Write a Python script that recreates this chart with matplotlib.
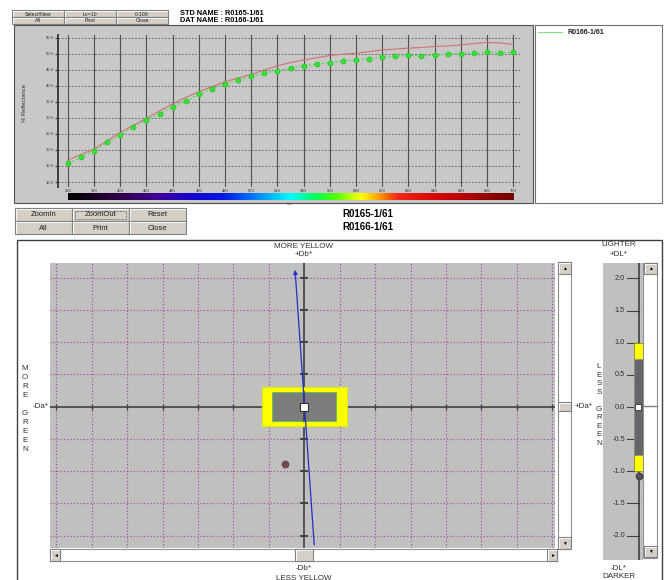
import numpy as np
import matplotlib
matplotlib.use("Agg")
import matplotlib.pyplot as plt
from matplotlib.colors import LinearSegmentedColormap
from matplotlib.patches import Rectangle

plt.rcParams["font.family"] = ["Liberation Sans", "DejaVu Sans"]

W, H = 667, 580

# spectral reflectance curves (nm, %R)
wavelengths = [360, 370, 380, 390, 400, 410, 420, 430, 440, 450, 460, 470,
               480, 490, 500, 510, 520, 530, 540, 550, 560, 570, 580, 590,
               600, 610, 620, 630, 640, 650, 660, 670, 680, 690, 700]
std_reflectance = [16.9, 18.6, 20.3, 22.9, 25.5, 27.7, 29.9, 32.2, 34.4, 36.4,
                   38.2, 39.8, 41.3, 42.5, 43.6, 45.0, 46.3, 47.3, 48.1, 48.8,
                   49.5, 49.9, 50.2, 50.7, 51.25, 51.5, 51.8, 52.0, 52.3, 52.5,
                   52.8, 53.2, 53.6, 53.4, 53.0]
bat_reflectance = [15.8, 17.7, 19.8, 22.4, 24.7, 27.1, 29.4, 31.3, 33.5, 35.3,
                   37.4, 39.1, 40.7, 41.8, 43.0, 44.0, 44.8, 45.5, 46.3, 46.8,
                   47.3, 47.8, 48.1, 48.5, 49.0, 49.2, 49.5, 49.4, 49.7, 49.9,
                   50.1, 50.3, 50.5, 50.3, 50.5]
x_ticks = list(range(360, 701, 20))
y_ticks = [10.0, 15.0, 20.0, 25.0, 30.0, 35.0, 40.0, 45.0, 50.0, 55.0]

std_name = "R0165-1/61"
bat_name = "R0166-1/61"

# colour difference (batch vs standard)
da_ticks = [-3.5, -3.0, -2.5, -2.0, -1.5, -1.0, -0.5, 0.0, 0.5, 1.0, 1.5, 2.0, 2.5, 3.0, 3.5]
db_ticks = [-2.0, -1.5, -1.0, -0.5, 0.0, 0.5, 1.0, 1.5, 2.0]
dl_ticks = [-2.0, -1.5, -1.0, -0.5, 0.0, 0.5, 1.0, 1.5, 2.0]
tol_a, tol_b, tol_l = 0.6, 0.3, 1.0
inner_frac = 0.75
batch_da, batch_db, batch_dl = -0.27, -0.89, -1.07
hue_line_start = (0.14, -2.14)
hue_line_end = (-0.13, 2.12)


def box(x0, y0, x1, y1):
    return [x0 / W, 1 - y1 / H, (x1 - x0) / W, (y1 - y0) / H]


fig = plt.figure(figsize=(W / 100, H / 100), dpi=100)
fig.patch.set_facecolor("white")

ui = fig.add_axes([0, 0, 1, 1])
ui.set_xlim(0, W)
ui.set_ylim(H, 0)
ui.axis("off")


def button(x0, y0, x1, y1, label, size=5.0, focus=False):
    ui.add_patch(Rectangle((x0, y0), x1 - x0, y1 - y0, facecolor="#d4d0c8",
                           edgecolor="#808080", lw=0.8))
    ui.plot([x0 + 0.5, x1 - 1], [y0 + 0.8, y0 + 0.8], color="white", lw=0.6)
    ui.plot([x0 + 0.8, x0 + 0.8], [y0 + 0.5, y1 - 1], color="white", lw=0.6)
    if focus:
        ui.add_patch(Rectangle((x0 + 3, y0 + 2.5), x1 - x0 - 6, y1 - y0 - 5, fill=False,
                               edgecolor="#303030", lw=0.5, ls=(0, (1, 1))))
    ui.text((x0 + x1) / 2, (y0 + y1) / 2 + 0.5, label, ha="center", va="center",
            fontsize=size, color="#202020")


# --- header ---
for i, lab in enumerate(["Select/New", "Lv=10", "0-100"]):
    button(12 + i * 52, 10, 64 + i * 52, 17, lab, size=3.8)
for i, lab in enumerate(["All", "Print", "Close"]):
    button(12 + i * 52, 17, 64 + i * 52, 24, lab, size=3.8)
ui.text(180, 13.5, "STD NAME : " + std_name, fontsize=5.3, fontweight="bold", va="center")
ui.text(180, 20.5, "DAT NAME : " + bat_name, fontsize=5.3, fontweight="bold", va="center")

# --- top spectral panel ---
ui.add_patch(Rectangle((14, 25), 519, 178, facecolor="#c8c8c8", edgecolor="#505050", lw=0.8))
ui.add_patch(Rectangle((535, 25), 127, 178, facecolor="white", edgecolor="#707070", lw=0.8))
ui.plot([538, 562], [32, 32], color="#80e080", lw=0.8)
ui.text(568, 32, bat_name, fontsize=5.0, fontweight="bold", va="center", color="#202020")

ax = fig.add_axes(box(58, 35, 520, 187))
ax.set_facecolor("#c8c8c8")
ax.set_xlim(352.4, 705.3)
ax.set_ylim(8.44, 55.9)
for x in x_ticks:
    ax.axvline(x, color="#505050", lw=0.8, zorder=1)
for y in y_ticks:
    ax.axhline(y, color="#555555", lw=0.6, ls=(0, (2, 2)), zorder=1)
ax.plot(wavelengths, std_reflectance, color="#d07070", lw=0.8, zorder=3)
ax.plot(wavelengths, bat_reflectance, color="#40e040", lw=0.8, ls=(0, (2, 2)),
        marker="o", ms=3.2, mec="#30d030", zorder=4)
ax.set_xticks(x_ticks)
ax.set_yticks(y_ticks)
ax.set_xticklabels([str(v) for v in x_ticks])
ax.set_yticklabels([f"{v:.1f}" for v in y_ticks])
ax.tick_params(axis="x", length=0, pad=1.2, labelsize=3.0, colors="#303030")
ax.tick_params(axis="y", length=2, pad=1, labelsize=3.0, colors="#303030")
for s in ["top", "right", "bottom"]:
    ax.spines[s].set_visible(False)
ax.spines["left"].set_linewidth(1.4)
ax.spines["left"].set_color("#404040")
ui.text(25, 103, "% Reflectance", rotation=90, fontsize=4.2, ha="center", va="center",
        color="#303030")

# spectrum strip under the curve
spec = LinearSegmentedColormap.from_list("spec", [
    (0.0, (0, 0, 0)), (0.12, (0.2, 0.0, 0.3)), (0.2, (0.25, 0.0, 0.6)),
    (0.27, (0.1, 0.0, 0.8)), (0.35, (0.0, 0.1, 0.9)), (0.42, (0.0, 0.5, 1.0)),
    (0.5, (0.0, 1.0, 1.0)), (0.55, (0.0, 1.0, 0.4)), (0.6, (0.3, 1.0, 0.0)),
    (0.64, (0.8, 1.0, 0.0)), (0.66, (1.0, 1.0, 0.0)), (0.7, (1.0, 0.6, 0.0)),
    (0.74, (0.95, 0.15, 0.1)), (0.85, (0.8, 0.0, 0.0)), (1.0, (0.45, 0.0, 0.0))])
cb = fig.add_axes(box(58, 193, 520, 200))
cb.imshow(np.linspace(0, 1, 400)[None, :], aspect="auto", cmap=spec,
          extent=(wavelengths[0], wavelengths[-1], 0, 1))
cb.set_xlim(352.4, 705.3)
cb.axis("off")
ui.text(290, 204, "nm", fontsize=3, ha="center", va="center", color="#303030")

# --- middle buttons and names ---
for i, lab in enumerate(["ZoomIn", "ZoomOut", "Reset"]):
    button(15 + i * 57, 208, 72 + i * 57, 221, lab, size=5.5, focus=(i == 1))
for i, lab in enumerate(["All", "Print", "Close"]):
    button(15 + i * 57, 221, 72 + i * 57, 234, lab, size=5.5)
ui.text(368, 214, std_name, fontsize=7, fontweight="bold", ha="center", va="center")
ui.text(368, 227, bat_name, fontsize=7, fontweight="bold", ha="center", va="center")

# --- bottom colour difference panel ---
ui.add_patch(Rectangle((17, 240), 645, 350, facecolor="white", edgecolor="#404040", lw=1.0))

ab = fig.add_axes(box(50, 262.7, 555, 548))
ab.set_facecolor("#c0c0c0")
ab.set_xlim(-3.59, 3.54)
ab.set_ylim(-2.19, 2.23)
for x in da_ticks:
    if x != 0:
        ab.axvline(x, color="#a040a0", lw=0.8, ls=(0, (1, 2)), zorder=1)
for y in db_ticks:
    if y != 0:
        ab.axhline(y, color="#a040a0", lw=0.8, ls=(0, (1, 2)), zorder=1)
ab.axhline(0, color="#404040", lw=1.2, zorder=2)
ab.axvline(0, color="#404040", lw=1.2, zorder=2)
ab.plot(da_ticks, [0] * len(da_ticks), ls="none", marker="|", ms=5, mew=0.9,
        color="#404040", zorder=2)
ab.plot([0] * len(db_ticks), db_ticks, ls="none", marker="_", ms=6, mew=1.4,
        color="#404040", zorder=2)
ab.add_patch(Rectangle((-tol_a, -tol_b), 2 * tol_a, 2 * tol_b, facecolor="#ffff00",
                       edgecolor="#d8f000", lw=0.8, zorder=3))
ab.add_patch(Rectangle((-tol_a * inner_frac, -tol_b * inner_frac), 2 * tol_a * inner_frac,
                       2 * tol_b * inner_frac, facecolor="#7c7c7c", edgecolor="#70c050",
                       lw=0.8, zorder=4))
ab.plot([0, 0], [-tol_b * inner_frac, tol_b * inner_frac], color="#404040", lw=1.2, zorder=5)
ab.annotate("", xy=hue_line_end, xytext=hue_line_start, zorder=6,
            arrowprops=dict(arrowstyle="-|>", color="#2030c8", lw=0.9, mutation_scale=6,
                            shrinkA=0, shrinkB=0))
ab.plot(0, 0, marker="s", ms=5.5, mfc="white", mec="#303030", mew=0.8, zorder=7)
ab.plot(batch_da, batch_db, marker="o", ms=5, mfc="#7a4848", mec="#505050", mew=0.6, zorder=7)
ab.set_xticks([])
ab.set_yticks([])
for s in ab.spines.values():
    s.set_visible(False)

# scrollbars for the a/b view
ui.add_patch(Rectangle((50, 549), 507, 12, facecolor="white", edgecolor="#909090", lw=0.8))
button(295, 549, 313, 561, "")
button(50, 549, 60, 561, "")
button(547, 549, 557, 561, "")
ui.text(55, 555, "◄", fontsize=3.5, ha="center", va="center")
ui.text(552, 555, "►", fontsize=3.5, ha="center", va="center")
ui.add_patch(Rectangle((558, 262), 13, 287, facecolor="white", edgecolor="#909090", lw=0.8))
button(558, 262, 571, 274, "")
button(558, 537, 571, 549, "")
button(558, 402, 571, 411, "")
ui.text(564.5, 268, "▲", fontsize=3.5, ha="center", va="center")
ui.text(564.5, 543, "▼", fontsize=3.5, ha="center", va="center")

lab_kw = dict(fontsize=5.8, ha="center", va="center", color="#303030")
ui.text(304, 246, "MORE YELLOW", **lab_kw)
ui.text(304, 255, "+Db*", **lab_kw)
ui.text(304, 569, "-Db*", **lab_kw)
ui.text(304, 578, "LESS YELLOW", **lab_kw)
ui.text(49, 407, "-Da*", fontsize=5.8, ha="right", va="center", color="#303030")
ui.text(575, 407, "+Da*", fontsize=5.8, ha="left", va="center", color="#303030")
ui.text(25, 409, "M\nO\nR\nE\n\nG\nR\nE\nE\nN", fontsize=5.8, ha="center", va="center",
        linespacing=1.38, color="#303030")
ui.text(599, 405, "L\nE\nS\nS\n\nG\nR\nE\nE\nN", fontsize=5.8, ha="center", va="center",
        linespacing=1.3, color="#303030")

# --- lightness bar ---
lx = fig.add_axes(box(603, 263, 643, 560))
lx.set_facecolor("#c0c0c0")
lx.set_xlim(0, 40)
lx.set_ylim(-2.38, 2.24)
lx.axvline(36, color="#404040", lw=1.2, zorder=2)
for t in dl_ticks:
    lx.plot([24, 36], [t, t], color="#404040", lw=0.8, zorder=2)
    lx.text(22, t, f"{t:.1f}", fontsize=5.3, ha="right", va="center", color="#303030")
lx.add_patch(Rectangle((30.5, -tol_l), 9, 2 * tol_l, facecolor="#ffff00",
                       edgecolor="#909000", lw=0.6, zorder=3))
lx.add_patch(Rectangle((30.5, -tol_l * inner_frac), 9, 2 * tol_l * inner_frac,
                       facecolor="#666666", edgecolor="#909090", lw=0.6, zorder=4))
lx.plot(35, 0, marker="s", ms=5, mfc="white", mec="#303030", mew=0.6, zorder=5)
lx.plot(36, batch_dl, marker="o", ms=4.5, mfc="#555555", mec="#404040", zorder=5)
lx.set_xticks([])
lx.set_yticks([])
for s in lx.spines.values():
    s.set_visible(False)

ui.add_patch(Rectangle((643, 263), 14, 295, facecolor="white", edgecolor="#909090", lw=0.8))
button(644, 263, 657, 274, "")
button(644, 546, 657, 557, "")
ui.plot([643, 657], [406, 406], color="#808080", lw=1.0)
ui.text(650.5, 268.5, "▲", fontsize=3.5, ha="center", va="center")
ui.text(650.5, 551.5, "▼", fontsize=3.5, ha="center", va="center")
ui.text(619, 245, "LIGHTER", **lab_kw)
ui.text(619, 254, "+DL*", **lab_kw)
ui.text(619, 568, "-DL*", **lab_kw)
ui.text(619, 576, "DARKER", **lab_kw)

fig.savefig("out.png", dpi=100)
